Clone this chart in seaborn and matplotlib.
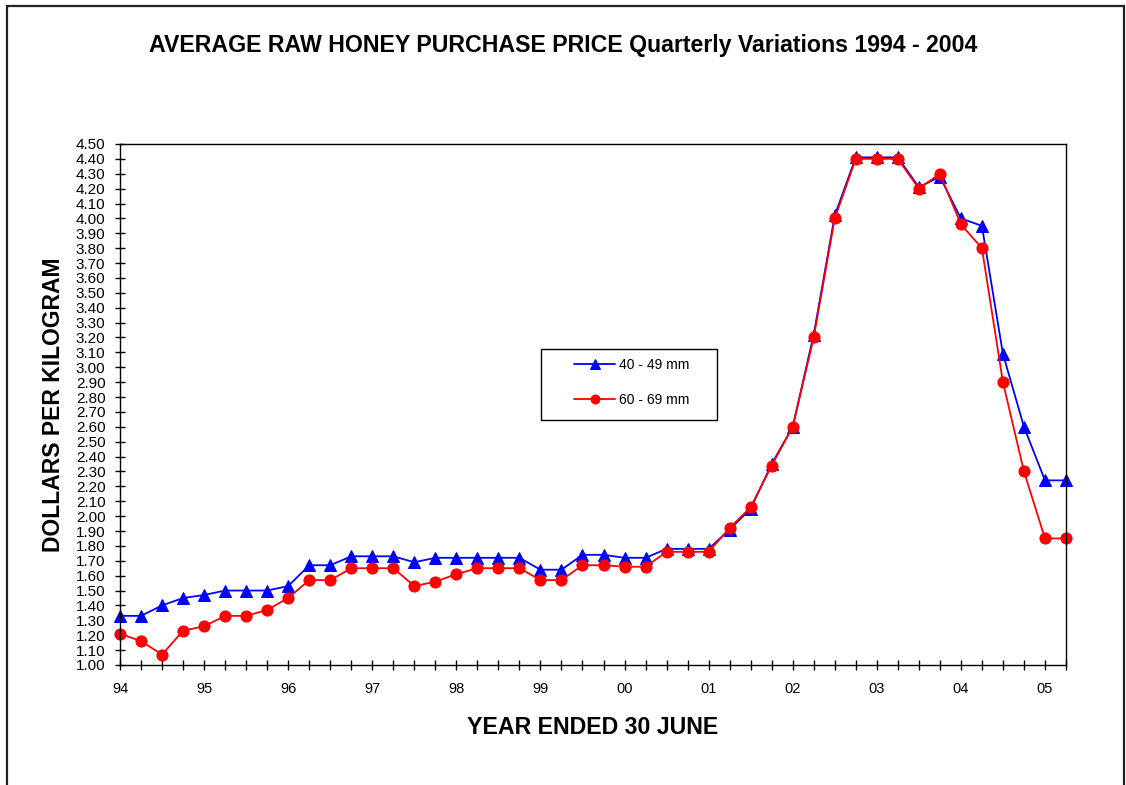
import numpy as np
import pandas as pd
import seaborn as sns
import matplotlib.pyplot as plt
from matplotlib.patches import Rectangle

# quarterly prices, 94 (June) .. 05 (Sept)
price_40_49 = [1.33, 1.33, 1.40, 1.45, 1.47, 1.50, 1.50, 1.50, 1.53, 1.67, 1.67, 1.73,
               1.73, 1.73, 1.69, 1.72, 1.72, 1.72, 1.72, 1.72, 1.64, 1.64, 1.74, 1.74,
               1.72, 1.72, 1.78, 1.78, 1.78, 1.91, 2.05, 2.35, 2.60, 3.22, 4.02, 4.41,
               4.41, 4.41, 4.21, 4.28, 4.00, 3.95, 3.09, 2.60, 2.24, 2.24]
price_60_69 = [1.21, 1.16, 1.07, 1.23, 1.26, 1.33, 1.33, 1.37, 1.45, 1.57, 1.57, 1.65,
               1.65, 1.65, 1.53, 1.56, 1.61, 1.65, 1.65, 1.65, 1.57, 1.57, 1.67, 1.67,
               1.66, 1.66, 1.76, 1.76, 1.76, 1.92, 2.06, 2.34, 2.60, 3.20, 4.00, 4.40,
               4.40, 4.40, 4.20, 4.30, 3.96, 3.80, 2.90, 2.30, 1.85, 1.85]
year_labels = ['94', '95', '96', '97', '98', '99', '00', '01', '02', '03', '04', '05']

quarters = np.arange(len(price_40_49)) / 4
df = pd.DataFrame({'x': quarters, 'a': price_40_49, 'b': price_60_69})

sns.set_style('white')
plt.rcParams['font.family'] = ['Liberation Sans', 'DejaVu Sans']
plt.rcParams['text.color'] = 'black'
plt.rcParams['axes.labelcolor'] = 'black'
plt.rcParams['xtick.color'] = 'black'
plt.rcParams['ytick.color'] = 'black'

fig = plt.figure(figsize=(11.26, 7.85), dpi=100)
ax = fig.add_axes([0.1066, 0.1529, 0.8401, 0.6637])

sns.lineplot(x='x', y='a', data=df, ax=ax, color='#0000ff', marker='^', markersize=8.5,
             markeredgecolor='#0000ff', linewidth=1.3, label='40 - 49 mm', clip_on=False)
sns.lineplot(x='x', y='b', data=df, ax=ax, color='#ff0000', marker='o', markersize=8,
             markeredgecolor='#ff0000', linewidth=1.3, label='60 - 69 mm', clip_on=False)

ax.set_xlim(0, quarters[-1])
ax.set_ylim(1.0, 4.5)
ax.set_xticks(np.arange(len(year_labels)))
ax.set_xticklabels(year_labels, fontsize=10.5)
ax.set_xticks(quarters, minor=True)
ax.set_yticks(np.round(np.arange(1.0, 4.501, 0.1), 2))
ax.set_yticklabels([f'{v:.2f}' for v in np.arange(1.0, 4.501, 0.1)], fontsize=11)
ax.tick_params(axis='both', which='both', direction='inout', length=7, width=1,
               color='black', bottom=True, left=True, top=False, right=False)
ax.tick_params(axis='x', which='major', pad=9)
ax.tick_params(axis='y', which='major', pad=7)
for s in ax.spines.values():
    s.set_color('black')
    s.set_linewidth(1)

ax.set_xlabel('YEAR ENDED 30 JUNE', fontsize=16.7, fontweight='bold', labelpad=14)
ax.set_ylabel('DOLLARS PER KILOGRAM', fontsize=16.5, fontweight='bold', labelpad=8)
fig.text(0.5, 0.942, 'AVERAGE RAW HONEY PURCHASE PRICE Quarterly Variations 1994 - 2004',
         ha='center', va='center', fontsize=16.7, fontweight='bold')

leg = ax.legend(loc='center', bbox_to_anchor=(0.541, 0.542), fontsize=10, frameon=False,
                labelspacing=1.5, handlelength=2.9, handletextpad=0.3, borderaxespad=0,
                markerscale=0.8)
ax.add_patch(Rectangle((0.445, 0.470), 0.186, 0.137, transform=ax.transAxes, fill=False,
                       edgecolor='black', linewidth=1, zorder=5))

fig.patches.append(Rectangle((0.0062, -0.02), 0.992, 1.0124, transform=fig.transFigure,
                             fill=False, edgecolor='#222222', linewidth=1.6))

plt.savefig('out.png', dpi=100)
